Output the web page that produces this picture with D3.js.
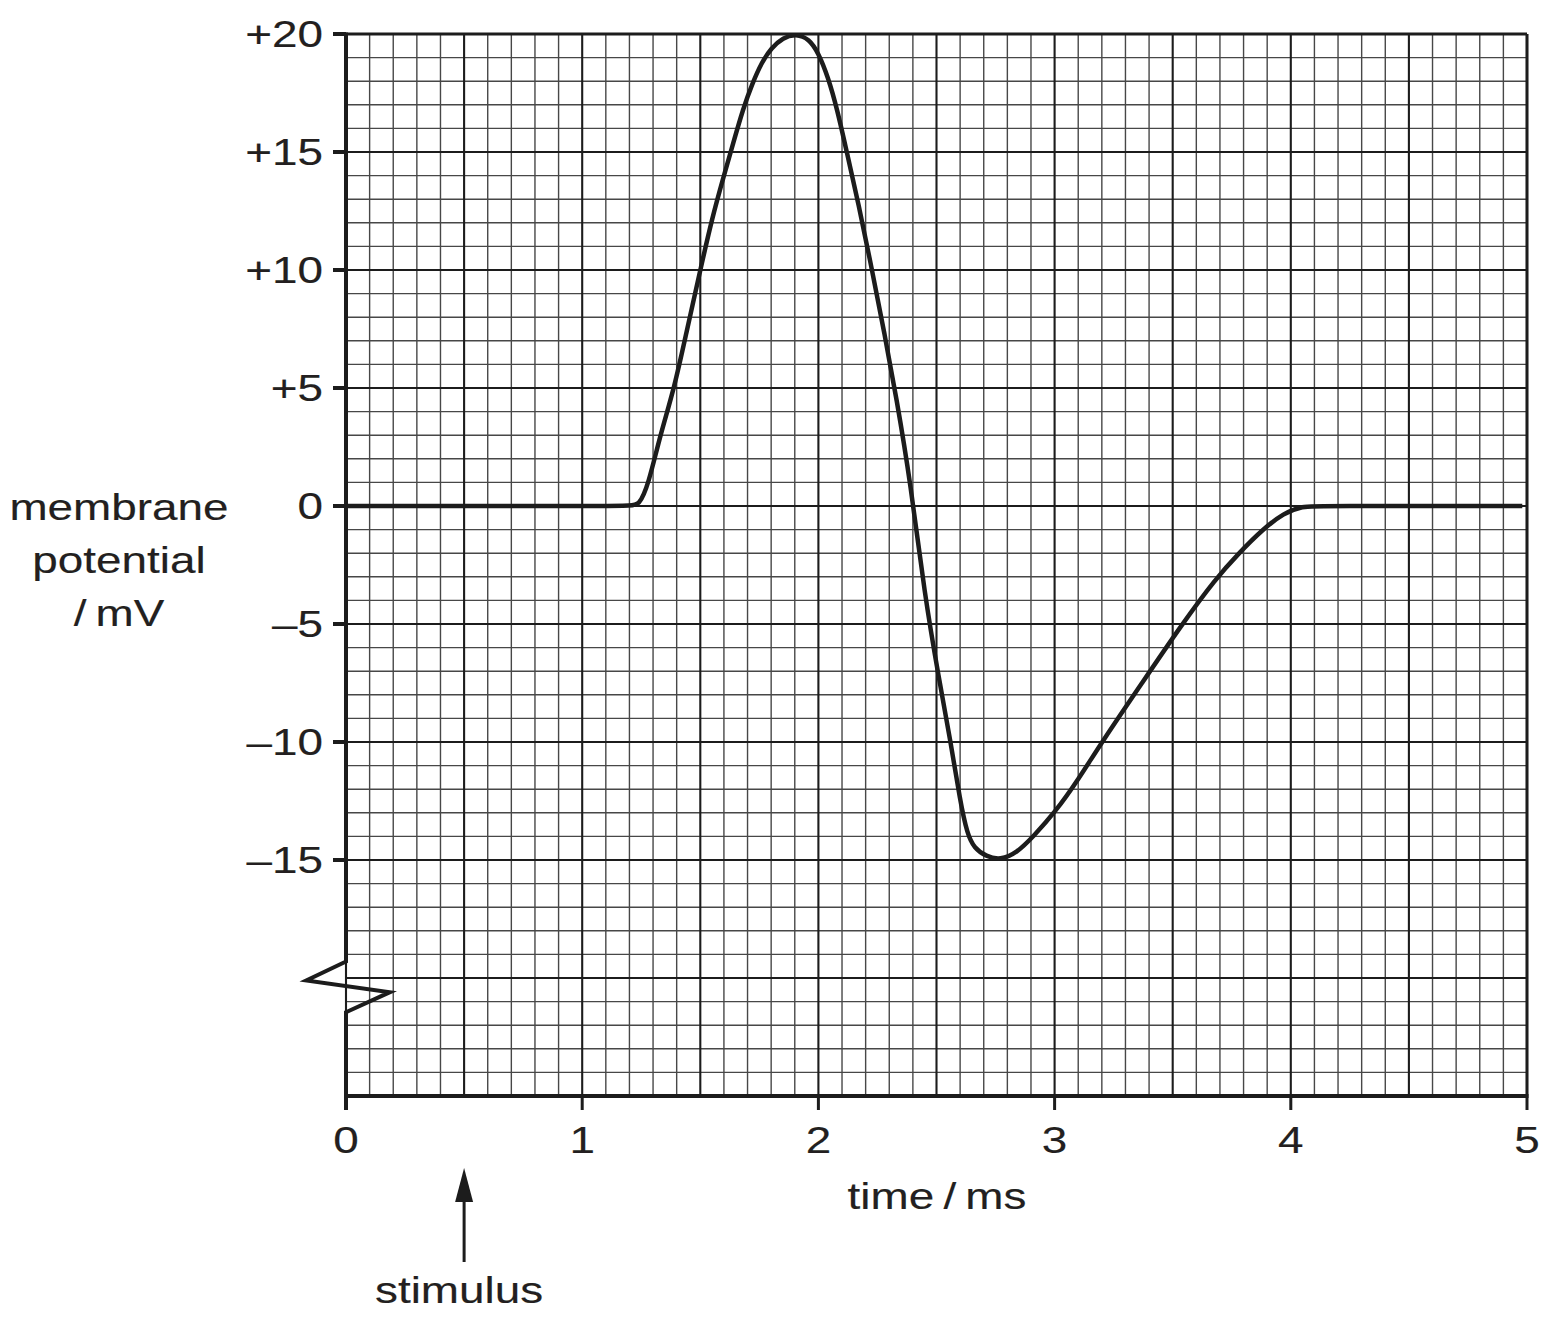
<!DOCTYPE html>
<html><head><meta charset="utf-8">
<script src="https://cdn.jsdelivr.net/npm/d3@7"></script>
<style>body{margin:0;background:#fff}svg{display:block}</style></head>
<body><svg id="c" width="1553" height="1318"></svg>
<script>
// ---- data ----
const timeMs = [0, 1.20, 1.24, 1.28, 1.33, 1.39, 1.44, 1.50, 1.55, 1.60, 1.64, 1.68, 1.72, 1.76, 1.80, 1.85, 1.905,
  1.96, 2.00, 2.04, 2.08, 2.12, 2.17, 2.227, 2.28, 2.33, 2.39, 2.45, 2.51, 2.56, 2.60, 2.63, 2.66,
  2.71, 2.77, 2.84, 2.91, 3.0, 3.1, 3.2, 3.37, 3.54, 3.68, 3.78, 3.88, 3.97, 4.05, 4.12, 4.98];
const potentialMv = [0, 0, 0, 0.9, 3, 5, 7.3, 10, 12.2, 14, 15.4, 16.8, 17.9, 18.8, 19.4, 19.85, 20,
  19.8, 19.2, 18.2, 16.8, 15, 12.8, 10, 7.3, 4.6, 1, -3.8, -7.3, -10, -12.5, -13.9, -14.5,
  -14.85, -15, -14.7, -14, -13, -11.6, -10, -7.5, -5, -3.1, -2, -1, -0.3, 0, 0, 0];
const xTicks = [0, 1, 2, 3, 4, 5];
const xTickLabels = ["0", "1", "2", "3", "4", "5"];
const yTicks = [20, 15, 10, 5, 0, -5, -10, -15];
const yTickLabels = ["+20", "+15", "+10", "+5", "0", "\u20135", "\u201310", "\u201315"];
const xDomain = [0, 5];
const yDomain = [-25, 20];
const stimulusTime = 0.5;
const breakPts = [[0, -19.3], [-0.168, -20.1], [0.186, -20.6], [0, -21.45]];
const yTitle = ["membrane", "potential", "/\u2009mV"];
const xTitle = "time\u2009/\u2009ms";
const stimulusLabel = "stimulus";

// ---- drawing ----
const svg = d3.select("#c");
const x = d3.scaleLinear().domain(xDomain).range([346, 1527]);
const y = d3.scaleLinear().domain(yDomain).range([1096, 34]);
const ink = "#1c1c1c";
const FONT = "'Liberation Sans', Arial, Helvetica, sans-serif";
const SX = 1.24;

const minorX = d3.range(0, 50.5, 1).map(d => d / 10).filter(d => Math.round(d * 10) % 5 !== 0);
const majorX = d3.range(0, 10.5, 1).map(d => d / 2);
const minorY = d3.range(-25, 20.5, 1).filter(d => d % 5 !== 0);
const majorY = d3.range(-25, 20.5, 5);

const g = svg.append("g");
g.selectAll(".mx").data(minorX).enter().append("line")
  .attr("x1", d => x(d)).attr("x2", d => x(d)).attr("y1", y(20)).attr("y2", y(-25))
  .attr("stroke", "#474747").attr("stroke-width", 1.4);
g.selectAll(".my").data(minorY).enter().append("line")
  .attr("y1", d => y(d)).attr("y2", d => y(d)).attr("x1", x(0)).attr("x2", x(5))
  .attr("stroke", "#474747").attr("stroke-width", 1.4);
g.selectAll(".Mx").data(majorX).enter().append("line")
  .attr("x1", d => x(d)).attr("x2", d => x(d)).attr("y1", y(20)).attr("y2", y(-25))
  .attr("stroke", ink).attr("stroke-width", 2.1);
g.selectAll(".My").data(majorY).enter().append("line")
  .attr("y1", d => y(d)).attr("y2", d => y(d)).attr("x1", x(0)).attr("x2", x(5))
  .attr("stroke", ink).attr("stroke-width", 2.1);

// borders
g.append("line").attr("x1", x(0)).attr("x2", x(5)).attr("y1", y(20)).attr("y2", y(20)).attr("stroke", ink).attr("stroke-width", 3);
g.append("line").attr("x1", x(5)).attr("x2", x(5)).attr("y1", y(20)).attr("y2", y(-25)).attr("stroke", ink).attr("stroke-width", 3);
// bottom axis
g.append("line").attr("x1", x(0) - 2).attr("x2", x(5) + 1.5).attr("y1", y(-25)).attr("y2", y(-25)).attr("stroke", ink).attr("stroke-width", 4);
// left axis with break
const leftPath = d3.line()([[x(0), y(20) - 1.5], [x(breakPts[0][0]), y(breakPts[0][1])]]
  .concat(breakPts.slice(1).map(p => [x(p[0]), y(p[1])]))
  .concat([[x(0), y(-25) + 14]]));
g.append("path").attr("d", leftPath).attr("fill", "none").attr("stroke", ink).attr("stroke-width", 4).attr("stroke-linejoin", "miter");

// ticks
g.selectAll(".yt").data(yTicks).enter().append("line")
  .attr("x1", x(0) - 13).attr("x2", x(0)).attr("y1", d => y(d)).attr("y2", d => y(d))
  .attr("stroke", ink).attr("stroke-width", 4);
g.selectAll(".xt").data(xTicks).enter().append("line")
  .attr("x1", d => x(d)).attr("x2", d => x(d)).attr("y1", y(-25)).attr("y2", y(-25) + 14)
  .attr("stroke", ink).attr("stroke-width", d => d === 0 ? 4 : 3);

function txt(str, px, py, anchor) {
  svg.append("text").attr("transform", `translate(${px},${py}) scale(${SX},1)`)
    .attr("text-anchor", anchor).attr("font-family", FONT).attr("font-size", 37)
    .attr("fill", "#231f20").attr("stroke", "#231f20").attr("stroke-width", 0.15).text(str);
}
yTicks.forEach((v, i) => txt(yTickLabels[i], 323, y(v) + 13, "end"));
xTicks.forEach((v, i) => txt(xTickLabels[i], x(v), 1153, "middle"));
txt(xTitle, 937, 1209, "middle");
yTitle.forEach((s, i) => txt(s, 119, 520 + i * 53, "middle"));
txt(stimulusLabel, x(stimulusTime) - 5, 1303, "middle");

// stimulus arrow
const ax = x(stimulusTime);
svg.append("line").attr("x1", ax).attr("x2", ax).attr("y1", 1262).attr("y2", 1198).attr("stroke", ink).attr("stroke-width", 3);
svg.append("path").attr("d", `M${ax},1168 L${ax - 9},1202 L${ax + 9},1202 Z`).attr("fill", ink);

// curve
const pts = timeMs.map((t, i) => [t, potentialMv[i]]);
svg.append("path").datum(pts)
  .attr("d", d3.line().x(d => x(d[0])).y(d => y(d[1])).curve(d3.curveBasis))
  .attr("fill", "none").attr("stroke", ink).attr("stroke-width", 4.5).attr("stroke-linejoin", "round");
</script>
</body></html>
